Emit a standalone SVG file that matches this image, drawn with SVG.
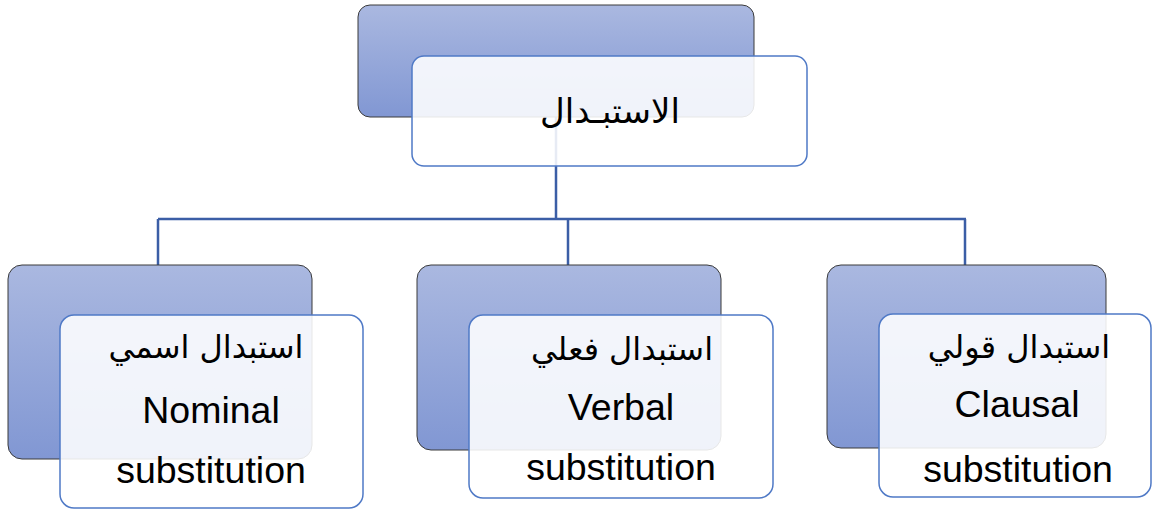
<svg xmlns="http://www.w3.org/2000/svg" width="1152" height="510" viewBox="0 0 1152 510">
<defs>
<linearGradient id="g" x1="0" y1="0" x2="0" y2="1">
<stop offset="0" stop-color="#aab8e0"/>
<stop offset="1" stop-color="#8197d3"/>
</linearGradient>
<style>
.back{fill:url(#g);stroke:#3a3a3a;stroke-width:1}
.front{fill:#ffffff;fill-opacity:0.88;stroke:#4f79c6;stroke-width:1.5}
.conn{fill:none;stroke:#3b5ea6;stroke-width:2.5}
.ar{font-family:"DejaVu Sans","Liberation Serif",serif;fill:#000;text-anchor:middle}
.en{font-family:"Liberation Sans",Arial,sans-serif;font-size:37.5px;fill:#000;text-anchor:middle}
</style>
</defs>
<rect width="1152" height="510" fill="#ffffff"/>
<g id="connectors">
<path class="conn" d="M556 117 V219 M158 219 H966 M158 219 V265 M568 219 V265 M965 219 V265"/>
</g>
<g id="node-top">
<rect class="back" x="358" y="5" width="396" height="112" rx="12"/>
<rect class="front" x="412" y="56" width="395" height="110" rx="12"/>
<text class="ar" x="610" y="123" font-size="34">الاستبـدال</text>
</g>
<g id="node-nominal">
<rect class="back" x="8" y="265" width="304" height="194" rx="14"/>
<rect class="front" x="60" y="315" width="303" height="193" rx="14"/>
<text class="ar" x="206" y="358" font-size="32">استبدال اسمي</text>
<text class="en" x="211" y="423">Nominal</text>
<text class="en" x="211" y="483">substitution</text>
</g>
<g id="node-verbal">
<rect class="back" x="417" y="265" width="304" height="185" rx="14"/>
<rect class="front" x="469" y="315" width="304" height="183" rx="14"/>
<text class="ar" x="622" y="360" font-size="32">استبدال فعلي</text>
<text class="en" x="621" y="420">Verbal</text>
<text class="en" x="621" y="480">substitution</text>
</g>
<g id="node-clausal">
<rect class="back" x="827" y="265" width="279" height="183" rx="14"/>
<rect class="front" x="879" y="314" width="272" height="183" rx="14"/>
<text class="ar" x="1019" y="358" font-size="32">استبدال قولي</text>
<text class="en" x="1017" y="417">Clausal</text>
<text class="en" x="1018" y="482">substitution</text>
</g>
</svg>
